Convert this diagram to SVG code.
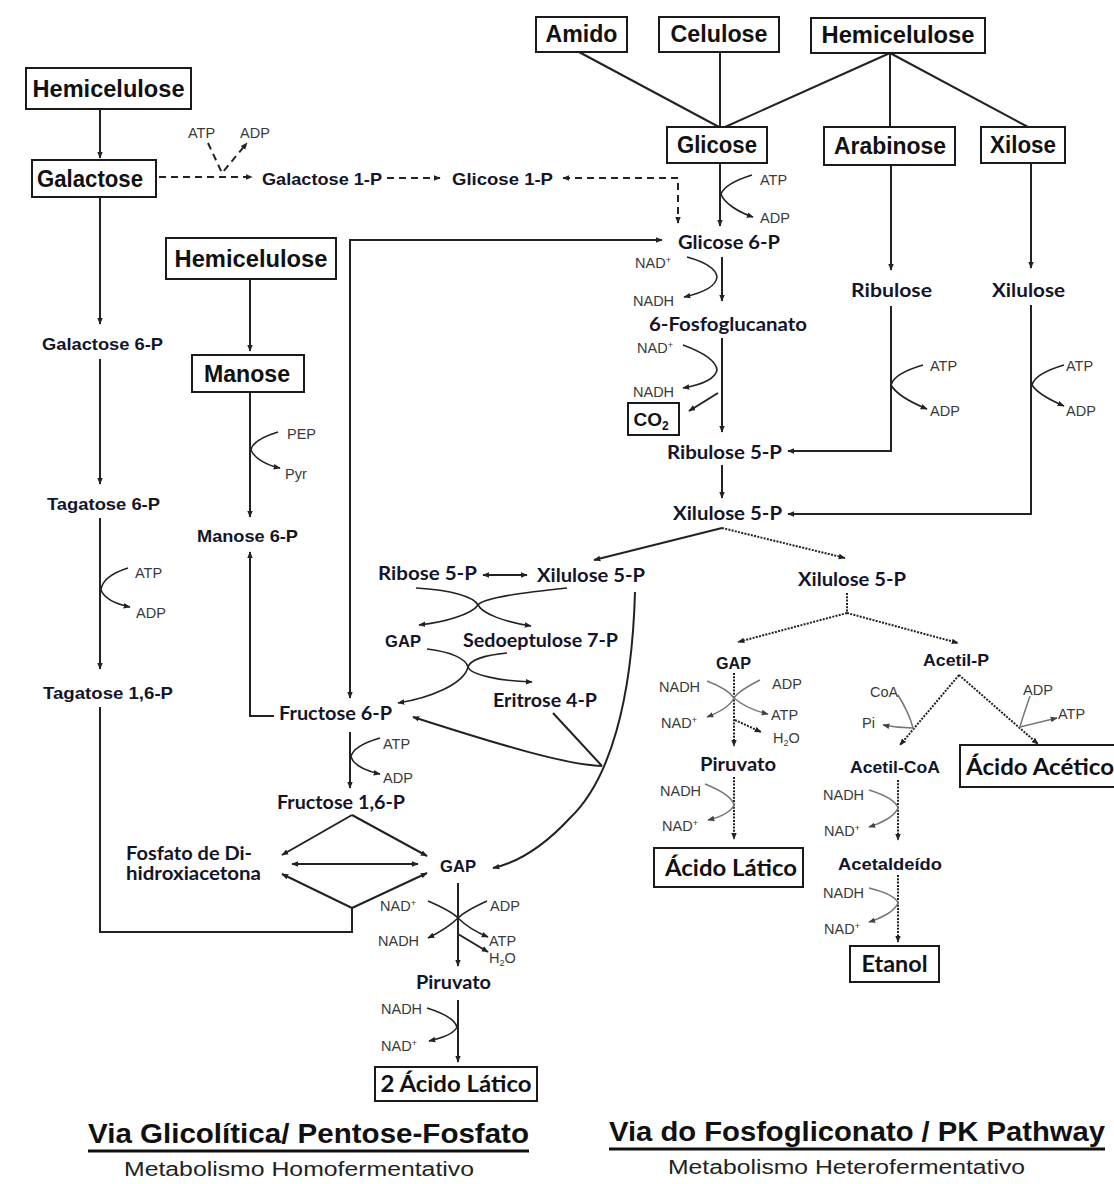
<svg xmlns="http://www.w3.org/2000/svg" width="1114" height="1184" viewBox="0 0 1114 1184">
<defs>
<style>
.bx{fill:#fff;stroke:#1a1a1a;stroke-width:2}
.bt{font-family:"Liberation Sans",Arial,sans-serif;font-weight:bold;font-size:23px;fill:#111;text-anchor:middle}
.bc{font-family:Lato,"Liberation Sans",sans-serif;font-weight:bold;font-size:23px;fill:#111;text-anchor:middle}
.t{font-family:"Liberation Sans",Arial,sans-serif;font-weight:bold;font-size:17px;fill:#15152a}
.c{font-family:Lato,"Liberation Sans",sans-serif;font-weight:bold;font-size:18px;fill:#15152a}
.s{font-family:"Liberation Sans",Arial,sans-serif;font-size:14.5px;fill:#3a3a3a}
.ln{fill:none;stroke:#222;stroke-width:2}
.th{fill:none;stroke:#222;stroke-width:1.6}
.gr{fill:none;stroke:#777;stroke-width:1.5}
.da{stroke-dasharray:7 5}
.do{stroke-dasharray:2 1.3}
.ti{font-family:"Liberation Sans",Arial,sans-serif;font-weight:bold;font-size:28px;fill:#111}
.st{font-family:"Liberation Sans",Arial,sans-serif;font-size:20px;fill:#222}
</style>
<marker id="a" viewBox="0 0 10 10" refX="9" refY="5" markerWidth="7" markerHeight="7" markerUnits="userSpaceOnUse" orient="auto-start-reverse"><path d="M0,1L10,5L0,9z" fill="#222"/></marker>
<marker id="ag" viewBox="0 0 10 10" refX="9" refY="5" markerWidth="7" markerHeight="7" markerUnits="userSpaceOnUse" orient="auto-start-reverse"><path d="M0,1L10,5L0,9z" fill="#444"/></marker>
</defs>
<rect width="1114" height="1184" fill="#fff"/>

<g id="connectors">
<path class="ln" d="M579,52 L719,127"/>
<path class="ln" d="M720,52 V127"/>
<path class="ln" d="M890,53 L725,127 M890,53 V127 M890,53 L1028,127"/>
<path class="ln" d="M720,163 V226" marker-end="url(#a)"/>
<path class="th" d="M752,175 C736,180 724,186 721,194 C724,203 738,212 753,217" marker-end="url(#a)"/>
<path class="ln da" d="M159,177 H252" marker-end="url(#a)"/>
<path class="ln da" d="M208,143 L222,173 L247,143" marker-end="url(#a)"/>
<path class="ln da" d="M387,178 H440" marker-end="url(#a)"/>
<path class="ln da" d="M563,178 H678 V223" marker-start="url(#a)" marker-end="url(#a)"/>
<path class="ln" d="M350,698 V240 H662" marker-start="url(#a)" marker-end="url(#a)"/>
<path class="ln" d="M722,257 V301" marker-end="url(#a)"/>
<path class="th" d="M687,257 C705,262 716,268 717,277 C716,287 702,293 684,297" marker-end="url(#a)"/>
<path class="ln" d="M722,338 V432" marker-end="url(#a)"/>
<path class="th" d="M683,345 C702,352 716,360 717,370 C715,380 700,385 683,388" marker-end="url(#a)"/>
<path class="ln" d="M718,393 L689,411" marker-end="url(#a)"/>
<path class="ln" d="M891,166 V270" marker-end="url(#a)"/>
<path class="ln" d="M891,306 V451 H788" marker-end="url(#a)"/>
<path class="th" d="M923,365 C906,370 893,377 891,385 C896,394 910,402 927,409" marker-end="url(#a)"/>
<path class="ln" d="M1031,163 V268" marker-end="url(#a)"/>
<path class="ln" d="M1031,305 V514 H788" marker-end="url(#a)"/>
<path class="th" d="M1064,365 C1047,370 1034,377 1032,385 C1037,393 1050,400 1064,406" marker-end="url(#a)"/>
<path class="ln" d="M722,465 V498" marker-end="url(#a)"/>
<path class="ln" d="M722,528 L594,560" marker-end="url(#a)"/>
<path class="ln do" d="M722,528 L845,558" marker-end="url(#a)"/>
<path class="ln do" d="M847,593 V613"/>
<path class="ln do" d="M847,613 L738,642" marker-end="url(#a)"/>
<path class="ln do" d="M847,613 L958,643" marker-end="url(#a)"/>
<path class="ln" d="M483,575 H527" marker-start="url(#a)" marker-end="url(#a)"/>
<path class="th" d="M416,588 C452,590 474,597 478,605 C483,614 505,622 531,626" marker-end="url(#a)"/>
<path class="th" d="M567,588 C530,592 484,597 478,605 C472,614 446,622 419,625" marker-end="url(#a)"/>
<path class="th" d="M427,649 C452,652 466,659 468,667 C471,675 500,681 532,682" marker-end="url(#a)"/>
<path class="th" d="M507,653 C485,655 470,660 468,667 C464,684 430,698 398,703" marker-end="url(#a)"/>
<path class="ln" d="M553,713 L602,766"/>
<path class="ln" d="M602,766 C567,765 500,745 413,717" marker-end="url(#a)"/>
<path class="ln" d="M635,592 C632,700 610,780 570,818 C545,845 520,862 493,868" marker-end="url(#a)"/>
<path class="ln" d="M100,109 V158" marker-end="url(#a)"/>
<path class="ln" d="M100,197 V324" marker-end="url(#a)"/>
<path class="ln" d="M100,359 V484" marker-end="url(#a)"/>
<path class="ln" d="M100,518 V669" marker-end="url(#a)"/>
<path class="th" d="M128,568 C112,573 102,581 101,590 C104,598 116,604 130,607" marker-end="url(#a)"/>
<path class="ln" d="M100,707 V932 H352 V908"/>
<path class="ln" d="M250,279 V351" marker-end="url(#a)"/>
<path class="ln" d="M250,392 V517" marker-end="url(#a)"/>
<path class="th" d="M278,432 C262,437 252,443 251,450 C254,458 266,465 280,468" marker-end="url(#a)"/>
<path class="ln" d="M274,716 H250 V552" marker-end="url(#a)"/>
<path class="ln" d="M350,732 V788" marker-end="url(#a)"/>
<path class="th" d="M380,738 C363,743 352,750 351,757 C354,765 366,771 380,774" marker-end="url(#a)"/>
<path class="ln" d="M352,815 L282,855" marker-end="url(#a)"/>
<path class="ln" d="M352,815 L427,856" marker-end="url(#a)"/>
<path class="ln" d="M292,864 H418" marker-start="url(#a)" marker-end="url(#a)"/>
<path class="ln" d="M352,908 L282,874" marker-end="url(#a)"/>
<path class="ln" d="M352,908 L427,873" marker-end="url(#a)"/>
<path class="ln" d="M458,883 V966" marker-end="url(#a)"/>
<path class="th" d="M428,901 C442,907 452,912 458,918 C450,926 440,932 428,938" marker-end="url(#a)"/>
<path class="th" d="M487,901 C474,907 464,912 458,918 C466,926 476,932 488,937" marker-end="url(#a)"/>
<path class="ln" d="M458,934 L488,952" marker-end="url(#a)"/>
<path class="ln" d="M458,1000 V1062" marker-end="url(#a)"/>
<path class="th" d="M427,1008 C443,1013 455,1020 457,1027 C454,1034 442,1038 429,1041" marker-end="url(#a)"/>
<path class="ln do" d="M734,673 V746" marker-end="url(#a)"/>
<path class="gr" d="M707,681 C720,686 730,692 734,698 C730,706 720,712 707,717" marker-end="url(#ag)"/>
<path class="gr" d="M760,680 C748,686 738,692 734,698 C742,705 755,711 768,714" marker-end="url(#ag)"/>
<path class="ln do" d="M735,720 L761,732" marker-end="url(#a)"/>
<path class="ln do" d="M734,777 V839" marker-end="url(#a)"/>
<path class="gr" d="M705,784 C720,790 732,797 734,805 C731,812 720,817 708,820" marker-end="url(#ag)"/>
<path class="ln do" d="M959,675 L900,745" marker-end="url(#a)"/>
<path class="ln do" d="M959,675 L1038,744" marker-end="url(#a)"/>
<path class="gr" d="M898,695 C906,708 911,720 913,728 C903,728 893,727 883,725" marker-end="url(#ag)"/>
<path class="gr" d="M1030,696 C1026,708 1022,719 1020,727 C1032,724 1045,721 1057,718" marker-end="url(#ag)"/>
<path class="ln do" d="M898,780 V840" marker-end="url(#a)"/>
<path class="gr" d="M869,790 C885,795 896,801 898,808 C895,816 882,823 869,827" marker-end="url(#ag)"/>
<path class="ln do" d="M898,875 V942" marker-end="url(#a)"/>
<path class="gr" d="M869,888 C885,892 896,897 898,903 C895,911 882,918 869,922" marker-end="url(#ag)"/>
</g>

<g id="amido"><rect class="bx" x="536" y="17" width="91" height="35"/><text class="bt" x="581.5" y="42" textLength="72" lengthAdjust="spacingAndGlyphs">Amido</text></g>
<g id="celulose"><rect class="bx" x="659" y="17" width="120" height="35"/><text class="bt" x="719" y="42" textLength="97" lengthAdjust="spacingAndGlyphs">Celulose</text></g>
<g id="hemicelulose-top"><rect class="bx" x="811" y="18" width="174" height="35"/><text class="bt" x="898" y="43" textLength="153" lengthAdjust="spacingAndGlyphs">Hemicelulose</text></g>
<g id="hemicelulose-left"><rect class="bx" x="26" y="68" width="165" height="41"/><text class="bt" x="108.5" y="97" textLength="152" lengthAdjust="spacingAndGlyphs">Hemicelulose</text></g>
<g id="galactose"><rect class="bx" x="32" y="160" width="124" height="37"/><text class="bt" x="90" y="187" textLength="106" lengthAdjust="spacingAndGlyphs">Galactose</text></g>
<g id="hemicelulose-mid"><rect class="bx" x="166" y="238" width="170" height="41"/><text class="bt" x="251" y="267" textLength="153" lengthAdjust="spacingAndGlyphs">Hemicelulose</text></g>
<g id="manose"><rect class="bx" x="192" y="355" width="112" height="37"/><text class="bt" x="247" y="382" textLength="86" lengthAdjust="spacingAndGlyphs">Manose</text></g>
<g id="glicose"><rect class="bx" x="667" y="127" width="100" height="36"/><text class="bt" x="717" y="153" textLength="80" lengthAdjust="spacingAndGlyphs">Glicose</text></g>
<g id="arabinose"><rect class="bx" x="824" y="127" width="131" height="38"/><text class="bt" x="890" y="154" textLength="112" lengthAdjust="spacingAndGlyphs">Arabinose</text></g>
<g id="xilose"><rect class="bx" x="981" y="127" width="84" height="36"/><text class="bt" x="1023" y="153" textLength="66" lengthAdjust="spacingAndGlyphs">Xilose</text></g>
<g id="co2"><rect class="bx" x="628" y="403" width="51" height="32"/><text class="bt" x="651" y="426" style="font-size:19px">CO<tspan style="font-size:12px" dy="4">2</tspan></text></g>
<g id="acido-latico"><rect class="bx" x="654" y="848" width="149" height="39"/><text class="bc" x="731" y="876" textLength="132" lengthAdjust="spacingAndGlyphs">Ácido Lático</text></g>
<g id="acido-acetico"><rect class="bx" x="960" y="745" width="160" height="42"/><text class="bc" x="966" y="775" style="text-anchor:start" textLength="148" lengthAdjust="spacingAndGlyphs">Ácido Acético</text></g>
<g id="etanol"><rect class="bx" x="850" y="946" width="89" height="36"/><text class="bc" x="894.5" y="972" textLength="66" lengthAdjust="spacingAndGlyphs">Etanol</text></g>
<g id="dois-acido-latico"><rect class="bx" x="375" y="1067" width="162" height="34"/><text class="bc" x="456" y="1092" textLength="151" lengthAdjust="spacingAndGlyphs">2 Ácido Lático</text></g>

<g id="galactose-1p"><text class="t" x="262" y="184.5" textLength="120" lengthAdjust="spacingAndGlyphs">Galactose 1-P</text></g>
<g id="glicose-1p"><text class="t" x="452" y="184.5" textLength="101" lengthAdjust="spacingAndGlyphs">Glicose 1-P</text></g>
<g id="galactose-6p"><text class="t" x="42" y="349.5" textLength="121" lengthAdjust="spacingAndGlyphs">Galactose 6-P</text></g>
<g id="tagatose-6p"><text class="t" x="47" y="509.5" textLength="113" lengthAdjust="spacingAndGlyphs">Tagatose 6-P</text></g>
<g id="tagatose-16p"><text class="t" x="43" y="699" textLength="130" lengthAdjust="spacingAndGlyphs">Tagatose 1,6-P</text></g>
<g id="manose-6p"><text class="t" x="197" y="541.5" textLength="101" lengthAdjust="spacingAndGlyphs">Manose 6-P</text></g>
<g id="gap-mid"><text class="t" x="385" y="646.5" textLength="36" lengthAdjust="spacingAndGlyphs">GAP</text></g>
<g id="gap-low"><text class="t" x="440" y="871.5" textLength="36" lengthAdjust="spacingAndGlyphs">GAP</text></g>
<g id="gap-right"><text class="t" x="716" y="668.5" textLength="35" lengthAdjust="spacingAndGlyphs">GAP</text></g>
<g id="acetil-p"><text class="t" x="923" y="665.5" textLength="66" lengthAdjust="spacingAndGlyphs">Acetil-P</text></g>
<g id="acetil-coa"><text class="t" x="850" y="772.5" textLength="90" lengthAdjust="spacingAndGlyphs">Acetil-CoA</text></g>
<g id="acetaldeido"><text class="t" x="838" y="869.5" textLength="104" lengthAdjust="spacingAndGlyphs">Acetaldeído</text></g>
<g id="piruvato-right"><text class="c" x="700" y="770.5" textLength="76" lengthAdjust="spacingAndGlyphs">Piruvato</text></g>
<g id="glicose-6p"><text class="c" x="678" y="248.5" textLength="102" lengthAdjust="spacingAndGlyphs">Glicose 6-P</text></g>
<g id="fosfoglucanato"><text class="c" x="649" y="330.5" textLength="158" lengthAdjust="spacingAndGlyphs">6-Fosfoglucanato</text></g>
<g id="ribulose-5p"><text class="c" x="667" y="458.5" textLength="115" lengthAdjust="spacingAndGlyphs">Ribulose 5-P</text></g>
<g id="ribulose"><text class="c" x="851" y="296.5" textLength="81" lengthAdjust="spacingAndGlyphs">Ribulose</text></g>
<g id="xilulose"><text class="c" x="992" y="296.5" textLength="73" lengthAdjust="spacingAndGlyphs">Xilulose</text></g>
<g id="xilulose-5p"><text class="c" x="673" y="520" textLength="109" lengthAdjust="spacingAndGlyphs">Xilulose 5-P</text></g>
<g id="xilulose-5p-right"><text class="c" x="798" y="585.5" textLength="108" lengthAdjust="spacingAndGlyphs">Xilulose 5-P</text></g>
<g id="xilulose-5p-mid"><text class="c" x="537" y="581.5" textLength="108" lengthAdjust="spacingAndGlyphs">Xilulose 5-P</text></g>
<g id="ribose-5p"><text class="c" x="378" y="579.5" textLength="99" lengthAdjust="spacingAndGlyphs">Ribose 5-P</text></g>
<g id="sedoeptulose-7p"><text class="c" x="463" y="646.5" textLength="155" lengthAdjust="spacingAndGlyphs">Sedoeptulose 7-P</text></g>
<g id="eritrose-4p"><text class="c" x="493" y="706.5" textLength="104" lengthAdjust="spacingAndGlyphs">Eritrose 4-P</text></g>
<g id="fructose-6p"><text class="c" x="279" y="719.5" textLength="113" lengthAdjust="spacingAndGlyphs">Fructose 6-P</text></g>
<g id="fructose-16p"><text class="c" x="277" y="808.5" textLength="128" lengthAdjust="spacingAndGlyphs">Fructose 1,6-P</text></g>
<g id="dhap"><text class="c" x="126" y="859.5" textLength="126" lengthAdjust="spacingAndGlyphs">Fosfato de Di-</text><text class="c" x="126" y="880" textLength="135" lengthAdjust="spacingAndGlyphs">hidroxiacetona</text></g>
<g id="piruvato"><text class="c" x="416" y="988.5" textLength="75" lengthAdjust="spacingAndGlyphs">Piruvato</text></g>

<g id="cofactors">
<text class="s" x="188" y="137.5">ATP</text><text class="s" x="240" y="137.5">ADP</text>
<text class="s" x="760" y="184.5">ATP</text><text class="s" x="760" y="222.5">ADP</text>
<text class="s" x="635" y="267.5">NAD<tspan style="font-size:9px" dy="-5">+</tspan></text><text class="s" x="633" y="305.5">NADH</text>
<text class="s" x="637" y="352.5">NAD<tspan style="font-size:9px" dy="-5">+</tspan></text><text class="s" x="633" y="396.5">NADH</text>
<text class="s" x="930" y="370.5">ATP</text><text class="s" x="930" y="415.5">ADP</text>
<text class="s" x="1066" y="370.5">ATP</text><text class="s" x="1066" y="415.5">ADP</text>
<text class="s" x="287" y="438.5">PEP</text><text class="s" x="285" y="478.5">Pyr</text>
<text class="s" x="135" y="577.5">ATP</text><text class="s" x="136" y="617.5">ADP</text>
<text class="s" x="383" y="748.5">ATP</text><text class="s" x="383" y="782.5">ADP</text>
<text class="s" x="380" y="910.5">NAD<tspan style="font-size:9px" dy="-5">+</tspan></text><text class="s" x="490" y="910.5">ADP</text>
<text class="s" x="378" y="945.5">NADH</text><text class="s" x="489" y="945.5">ATP</text>
<text class="s" x="489" y="962.5">H<tspan style="font-size:9px" dy="3">2</tspan><tspan dy="-3">O</tspan></text>
<text class="s" x="381" y="1013.5">NADH</text><text class="s" x="381" y="1050.5">NAD<tspan style="font-size:9px" dy="-5">+</tspan></text>
<text class="s" x="659" y="691.5">NADH</text><text class="s" x="772" y="688.5">ADP</text>
<text class="s" x="661" y="727.5">NAD<tspan style="font-size:9px" dy="-5">+</tspan></text><text class="s" x="771" y="719.5">ATP</text>
<text class="s" x="773" y="742.5">H<tspan style="font-size:9px" dy="3">2</tspan><tspan dy="-3">O</tspan></text>
<text class="s" x="660" y="795.5">NADH</text><text class="s" x="662" y="830.5">NAD<tspan style="font-size:9px" dy="-5">+</tspan></text>
<text class="s" x="870" y="696.5">CoA</text><text class="s" x="862" y="727.5">Pi</text>
<text class="s" x="1023" y="694.5">ADP</text><text class="s" x="1058" y="718.5">ATP</text>
<text class="s" x="823" y="799.5">NADH</text><text class="s" x="824" y="835.5">NAD<tspan style="font-size:9px" dy="-5">+</tspan></text>
<text class="s" x="823" y="897.5">NADH</text><text class="s" x="824" y="933.5">NAD<tspan style="font-size:9px" dy="-5">+</tspan></text>
</g>

<g id="titles">
<text class="ti" x="88" y="1143" textLength="441" lengthAdjust="spacingAndGlyphs">Via Glicolítica/ Pentose-Fosfato</text>
<line x1="88" y1="1151" x2="529" y2="1151" stroke="#111" stroke-width="3"/>
<text class="st" x="124" y="1176" textLength="350" lengthAdjust="spacingAndGlyphs">Metabolismo Homofermentativo</text>
<text class="ti" x="609" y="1141" textLength="496" lengthAdjust="spacingAndGlyphs">Via do Fosfogliconato / PK Pathway</text>
<line x1="609" y1="1149" x2="1105" y2="1149" stroke="#111" stroke-width="3"/>
<text class="st" x="668" y="1174" textLength="357" lengthAdjust="spacingAndGlyphs">Metabolismo Heterofermentativo</text>
</g>
</svg>
